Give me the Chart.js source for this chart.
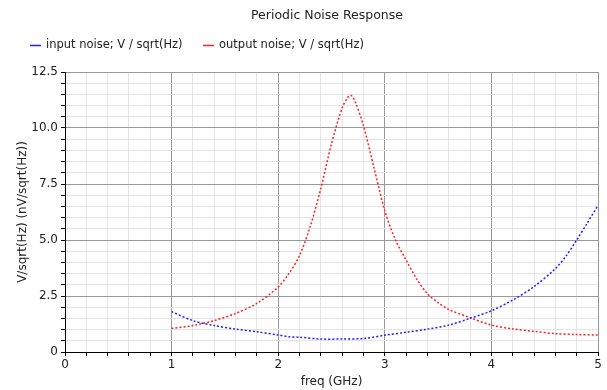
<!DOCTYPE html>
<html>
<head>
<meta charset="utf-8">
<script src="https://cdn.jsdelivr.net/npm/chart.js@4"></script>
<style>
    html, body { margin: 0; padding: 0; background: #fff; }
    #wrap { width: 607px; height: 390px; }
</style>
</head>
<body>
<div id="wrap"><canvas id="noiseChart" width="607" height="390"></canvas></div>
<script>
// freq in GHz, noise in nV/sqrt(Hz)
const inputFreq = [1.0, 1.2, 1.4, 1.6, 1.8, 2.0, 2.1, 2.2, 2.4, 2.6, 2.8, 3.0, 3.2, 3.4, 3.6, 3.8, 4.0, 4.2, 4.4, 4.6, 4.7, 4.8, 4.9, 5.0];
const inputNoise = [1.8, 1.4, 1.18, 1.02, 0.9, 0.76, 0.68, 0.66, 0.58, 0.58, 0.6, 0.75, 0.88, 1.02, 1.2, 1.5, 1.84, 2.32, 2.92, 3.72, 4.28, 5.0, 5.76, 6.55];

const outputFreq = [1.0, 1.2, 1.4, 1.6, 1.8, 2.0, 2.1, 2.2, 2.3, 2.4, 2.5, 2.6, 2.65, 2.68, 2.72, 2.8, 2.9, 3.0, 3.1, 3.2, 3.3, 3.4, 3.5, 3.6, 3.8, 4.0, 4.2, 4.4, 4.6, 4.8, 5.0];
const outputNoise = [1.05, 1.18, 1.4, 1.72, 2.17, 2.9, 3.5, 4.3, 5.6, 7.3, 9.3, 10.9, 11.35, 11.47, 11.2, 10.1, 8.2, 6.3, 5.0, 4.1, 3.25, 2.6, 2.2, 1.9, 1.53, 1.2, 1.03, 0.92, 0.82, 0.78, 0.76];

const chartTitle = 'Periodic Noise Response';
const seriesLabels = ['input noise; V / sqrt(Hz)', 'output noise; V / sqrt(Hz)'];
const seriesColors = ['#2020ff', '#ff2020'];

const xMajor = [0, 1, 2, 3, 4, 5];
const yMajor = [0, 2.5, 5.0, 7.5, 10.0, 12.5];

const FONT = '"DejaVu Sans", Verdana, sans-serif';

function isMajor(list, v) {
    return list.some(m => Math.abs(m - v) < 1e-6);
}

function toPoints(xs, ys) {
    return xs.map((x, i) => ({ x: x, y: ys[i] }));
}

// title + legend drawn by hand so they sit where the original tool put them
const headerPlugin = {
    id: 'header',
    afterDraw(chart) {
        const ctx = chart.ctx;
        ctx.save();
        ctx.setLineDash([]);
        ctx.textBaseline = 'middle';
        ctx.fillStyle = '#222';
        ctx.font = '12.5px ' + FONT;
        ctx.textAlign = 'center';
        ctx.fillText(chartTitle, 327, 16);

        ctx.textAlign = 'left';
        ctx.font = '11.5px ' + FONT;
        const starts = [30, 203];
        seriesLabels.forEach((label, i) => {
            const x = starts[i];
            ctx.strokeStyle = seriesColors[i];
            ctx.lineWidth = 1.5;
            ctx.beginPath();
            ctx.moveTo(x, 45.5);
            ctx.lineTo(x + 11, 45.5);
            ctx.stroke();
            ctx.fillStyle = '#222';
            ctx.fillText(label, x + 16, 45);
        });
        ctx.restore();
    }
};

new Chart(document.getElementById('noiseChart'), {
    type: 'line',
    data: {
        datasets: [{
            label: seriesLabels[0],
            data: toPoints(inputFreq, inputNoise),
            borderColor: seriesColors[0],
            borderWidth: 1.5,
            borderDash: [2, 2],
            pointRadius: 0,
            tension: 0.3,
            fill: false
        }, {
            label: seriesLabels[1],
            data: toPoints(outputFreq, outputNoise),
            borderColor: seriesColors[1],
            borderWidth: 1.5,
            borderDash: [2, 2],
            pointRadius: 0,
            tension: 0.3,
            fill: false
        }]
    },
    options: {
        responsive: false,
        animation: false,
        layout: { padding: { top: 72, right: 9, bottom: 0, left: 0 } },
        plugins: {
            legend: { display: false },
            tooltip: { enabled: false },
            title: { display: false }
        },
        scales: {
            x: {
                type: 'linear',
                min: 0,
                max: 5,
                afterFit: function (scale) { scale.height = 38; },
                border: { color: '#000', width: 1 },
                grid: {
                    color: ctx => isMajor(xMajor, ctx.tick.value) ? '#999' : '#e4e4e4',
                    tickColor: '#000',
                    tickLength: 4,
                    lineWidth: 1
                },
                ticks: {
                    stepSize: 0.2,
                    autoSkip: false,
                    maxRotation: 0,
                    padding: 2,
                    color: '#222',
                    font: { family: FONT, size: 12 },
                    callback: v => isMajor(xMajor, v) ? String(Math.round(v)) : ''
                },
                title: {
                    display: true,
                    text: 'freq (GHz)',
                    color: '#222',
                    font: { family: FONT, size: 12 },
                    padding: { top: 0, bottom: 1 }
                }
            },
            y: {
                type: 'linear',
                min: 0,
                max: 12.5,
                afterFit: function (scale) { scale.width = 65; },
                border: { color: '#000', width: 1 },
                grid: {
                    color: ctx => isMajor(yMajor, ctx.tick.value) ? '#999' : '#e4e4e4',
                    tickColor: '#000',
                    tickLength: 4,
                    lineWidth: 1
                },
                ticks: {
                    stepSize: 0.5,
                    autoSkip: false,
                    padding: 3,
                    color: '#222',
                    font: { family: FONT, size: 12 },
                    callback: v => {
                        if (!isMajor(yMajor, v)) return '';
                        return v === 0 ? '0' : v.toFixed(1);
                    }
                },
                title: {
                    display: true,
                    text: 'V/sqrt(Hz) (nV/sqrt(Hz))',
                    color: '#222',
                    font: { family: FONT, size: 12 },
                    padding: { top: 16, bottom: 0 }
                }
            }
        }
    },
    plugins: [headerPlugin]
});
</script>
</body>
</html>
